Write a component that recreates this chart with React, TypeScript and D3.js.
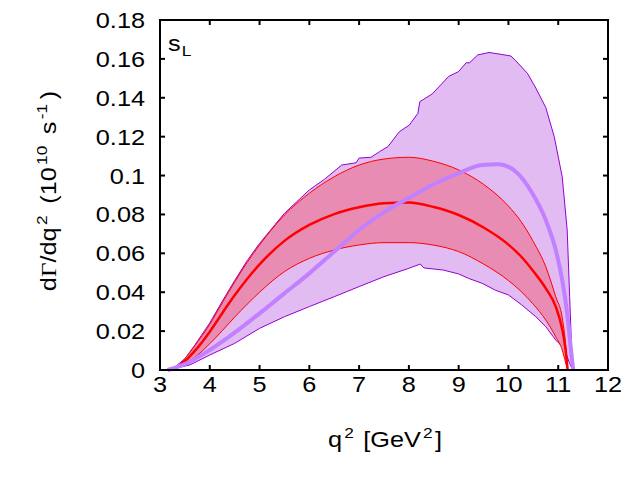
import React, { useRef, useEffect } from "react";
import { select, scaleLinear, line, area, curveLinear, curveMonotoneX } from "d3";

const WIDTH = 640;
const HEIGHT = 480;
const MARGIN = { top: 20, right: 32, bottom: 110, left: 160 };
const FONT = "'Liberation Sans', Arial, Helvetica, sans-serif";
const FONT_SIZE = 22;
const SUP_SIZE = 15;
const STRETCH = 1.15;

const X_TICKS = [3, 4, 5, 6, 7, 8, 9, 10, 11, 12];
const Y_TICKS = [0, 0.02, 0.04, 0.06, 0.08, 0.1, 0.12, 0.14, 0.16, 0.18];

// red band (first prediction)
const RED_Q = [3.23, 3.35, 3.5, 3.7, 4.0, 4.25, 4.5, 4.75, 5.0, 5.5, 6.0, 6.5, 7.0, 7.5, 8.0, 8.5, 9.0, 9.5, 10.0, 10.25, 10.5, 10.75, 10.95, 11.08, 11.15, 11.19];
const RED_UPPER = [0, 0.0018, 0.0058, 0.0125, 0.0235, 0.0345, 0.0452, 0.0553, 0.0643, 0.0797, 0.0909, 0.0994, 0.1054, 0.1085, 0.1094, 0.1073, 0.1029, 0.0955, 0.0843, 0.0765, 0.066, 0.0531, 0.0377, 0.027, 0.013, 0];
const RED_CENTER = [0, 0.0014, 0.0045, 0.0098, 0.0197, 0.0292, 0.0384, 0.0468, 0.0543, 0.0664, 0.0746, 0.0802, 0.0837, 0.0857, 0.0862, 0.0838, 0.0797, 0.0733, 0.0645, 0.0585, 0.0508, 0.042, 0.0326, 0.021, 0.01, 0];
const RED_LOWER = [0, 0.001, 0.003, 0.0065, 0.0135, 0.0202, 0.0272, 0.0338, 0.04, 0.0506, 0.0574, 0.0617, 0.0643, 0.0655, 0.0655, 0.0642, 0.0609, 0.0545, 0.046, 0.0405, 0.0338, 0.0257, 0.0171, 0.0103, 0.0036, 0];

// purple band (second prediction)
const PURPLE_UPPER_Q = [3.15, 3.3, 3.5, 3.7, 4.0, 4.25, 4.5, 4.75, 5.0, 5.5, 6.0, 6.3, 6.65, 6.94, 7.0, 7.24, 7.41, 7.58, 7.81, 8.01, 8.18, 8.22, 8.47, 8.8, 9.0, 9.15, 9.22, 9.38, 9.61, 9.81, 10.05, 10.15, 10.38, 10.55, 10.75, 10.92, 11.08, 11.18, 11.23, 11.27, 11.29];
const PURPLE_UPPER = [0, 0.0015, 0.0058, 0.0128, 0.0242, 0.0353, 0.046, 0.0562, 0.0651, 0.0806, 0.0926, 0.098, 0.1054, 0.1066, 0.109, 0.1094, 0.1123, 0.1149, 0.1226, 0.126, 0.132, 0.138, 0.142, 0.151, 0.1535, 0.158, 0.158, 0.162, 0.1633, 0.1625, 0.1615, 0.159, 0.1526, 0.145, 0.135, 0.12, 0.0994, 0.072, 0.0377, 0.0103, 0];
const PURPLE_LOWER_Q = [3.15, 3.6, 4.0, 4.5, 5.0, 5.5, 6.0, 6.5, 7.0, 7.5, 8.0, 8.23, 8.3, 8.69, 9.0, 9.2, 9.47, 9.74, 10.0, 10.27, 10.55, 10.75, 10.95, 11.12, 11.22, 11.29];
const PURPLE_LOWER = [0, 0.0026, 0.0077, 0.0137, 0.0214, 0.0274, 0.0326, 0.0377, 0.0429, 0.048, 0.0523, 0.0545, 0.0525, 0.0514, 0.0494, 0.0471, 0.0446, 0.041, 0.0386, 0.0334, 0.0274, 0.0223, 0.0154, 0.011, 0.004, 0];
const PURPLE_CENTER_Q = [3.15, 3.5, 4.0, 4.5, 5.0, 5.5, 6.0, 6.5, 7.0, 7.5, 8.0, 8.5, 9.0, 9.47, 9.8, 10.15, 10.48, 10.75, 10.95, 11.08, 11.18, 11.25, 11.3];
const PURPLE_CENTER = [0, 0.003, 0.0103, 0.0192, 0.0291, 0.0394, 0.0497, 0.0609, 0.072, 0.0812, 0.0885, 0.0955, 0.1012, 0.1054, 0.1058, 0.102, 0.0909, 0.0771, 0.0617, 0.0463, 0.0291, 0.012, 0];

const zip = (qs: number[], vs: number[]): [number, number][] =>
  qs.map((q, i) => [q, vs[i]]);

type Part = { t: string; sup?: boolean; serif?: boolean; sub?: boolean; gap?: number };

// gnuplot-style enhanced text: base runs, superscripts and subscripts
const richText = (parent: any, x: number, y: number, parts: Part[], anchor: string, rotate = 0) => {
  const txt = parent
    .append("text")
    .attr("transform", `translate(${x},${y}) rotate(${rotate}) scale(${STRETCH},1)`)
    .attr("text-anchor", anchor)
    .attr("font-family", FONT)
    .attr("font-size", FONT_SIZE)
    .attr("fill", "#000");
  let shift = 0;
  parts.forEach((p) => {
    const target = p.sup ? -9 : p.sub ? 5 : 0;
    const span = txt.append("tspan").attr("dy", target - shift).text(p.t);
    if (p.gap) span.attr("dx", p.gap);
    if (p.sup || p.sub) span.attr("font-size", SUP_SIZE);
    if (p.serif) span.attr("font-family", "'Liberation Serif', 'DejaVu Serif', serif");
    shift = target;
  });
  return txt;
};

export default function App() {
  const ref = useRef<HTMLDivElement>(null);

  useEffect(() => {
    const node = ref.current;
    if (!node) return;
    node.innerHTML = "";

    const innerWidth = WIDTH - MARGIN.left - MARGIN.right;
    const innerHeight = HEIGHT - MARGIN.top - MARGIN.bottom;

    const x = scaleLinear().domain([3, 12]).range([0, innerWidth]);
    const y = scaleLinear().domain([0, 0.18]).range([innerHeight, 0]);

    const svg = select(node)
      .append("svg")
      .attr("width", WIDTH)
      .attr("height", HEIGHT)
      .style("position", "absolute")
      .style("left", "0px")
      .style("top", "0px")
      .style("background", "#fff");

    const g = svg
      .append("g")
      .attr("transform", `translate(${MARGIN.left},${MARGIN.top})`);

    const edge = line<[number, number]>()
      .x((d) => x(d[0]))
      .y((d) => y(d[1]))
      .curve(curveLinear);
    const smooth = line<[number, number]>()
      .x((d) => x(d[0]))
      .y((d) => y(d[1]))
      .curve(curveMonotoneX);

    // purple band (jagged edges, straight segments)
    const pUp = zip(PURPLE_UPPER_Q, PURPLE_UPPER);
    const pLo = zip(PURPLE_LOWER_Q, PURPLE_LOWER);
    g.append("path")
      .attr("d", edge([...pUp, ...pLo.slice().reverse()]) + "Z")
      .attr("fill", "#e1bbf2").attr("stroke", "none");
    [pUp, pLo].forEach((pts) =>
      g.append("path").attr("d", edge(pts)).attr("fill", "none")
        .attr("stroke", "#9400d3").attr("stroke-width", 1)
    );

    // red band (smooth)
    const redArea = area<number>()
      .x((q) => x(q))
      .y0((q, i) => y(RED_LOWER[i]))
      .y1((q, i) => y(RED_UPPER[i]))
      .curve(curveMonotoneX);
    g.append("path").attr("d", redArea(RED_Q)).attr("fill", "#e98cb3").attr("stroke", "none");
    [RED_UPPER, RED_LOWER].forEach((vals) =>
      g.append("path").attr("d", smooth(zip(RED_Q, vals))).attr("fill", "none")
        .attr("stroke", "#ff0000").attr("stroke-width", 1)
    );

    // central values
    g.append("path").attr("d", smooth(zip(RED_Q, RED_CENTER))).attr("fill", "none")
      .attr("stroke", "#ff0000").attr("stroke-width", 2.5);
    g.append("path").attr("d", smooth(zip(PURPLE_CENTER_Q, PURPLE_CENTER))).attr("fill", "none")
      .attr("stroke", "#c080ff").attr("stroke-width", 4);

    // frame and ticks
    const tickLen = 5;
    X_TICKS.forEach((t) => {
      const px = x(t);
      g.append("line").attr("x1", px).attr("x2", px).attr("y1", innerHeight).attr("y2", innerHeight - tickLen)
        .attr("stroke", "#000").attr("stroke-width", 2);
      g.append("line").attr("x1", px).attr("x2", px).attr("y1", 0).attr("y2", tickLen)
        .attr("stroke", "#000").attr("stroke-width", 2);
      richText(g, px, innerHeight + 22, [{ t: String(t) }], "middle");
    });
    Y_TICKS.forEach((t) => {
      const py = y(t);
      g.append("line").attr("x1", 0).attr("x2", tickLen).attr("y1", py).attr("y2", py)
        .attr("stroke", "#000").attr("stroke-width", 2);
      g.append("line").attr("x1", innerWidth).attr("x2", innerWidth - tickLen).attr("y1", py).attr("y2", py)
        .attr("stroke", "#000").attr("stroke-width", 2);
      richText(g, -15, py + 8, [{ t: String(t) }], "end");
    });
    g.append("rect").attr("x", 0).attr("y", 0).attr("width", innerWidth).attr("height", innerHeight)
      .attr("fill", "none").attr("stroke", "#000").attr("stroke-width", 2);

    // s_L label
    richText(g, 8, 31, [{ t: "s" }, { t: "L", sub: true, gap: 1 }], "start");

    // axis titles
    richText(svg, 385, 447, [
      { t: "q" }, { t: "2", sup: true, gap: 2 }, { t: " [GeV", gap: 2 }, { t: "2", sup: true, gap: 2 }, { t: "]", gap: 2 },
    ], "middle");

    richText(svg, 56, 191, [
      { t: "d" }, { t: "Γ", serif: true }, { t: "/dq" }, { t: "2", sup: true, gap: 2 },
      { t: " (10", gap: 4 }, { t: "10", sup: true, gap: 2 }, { t: " s", gap: 4 },
      { t: "-1", sup: true, gap: 2 }, { t: ")", gap: 4 },
    ], "middle", -90);
  }, []);

  return <div ref={ref} />;
}
